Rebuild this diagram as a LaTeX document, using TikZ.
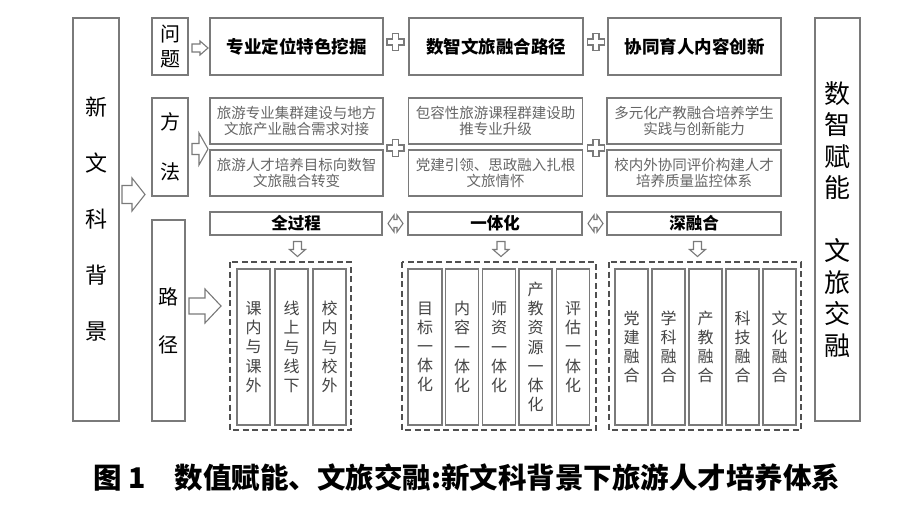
\documentclass[tikz,border=0pt]{standalone}
\usepackage{fontspec}
\setmainfont{Noto Sans CJK SC}
\newfontfamily\cjk{Noto Sans CJK SC}
\usetikzlibrary{calc}
\definecolor{bordergray}{HTML}{7A7A7A}
\definecolor{dashgray}{HTML}{505050}
\definecolor{methtext}{HTML}{666666}
\definecolor{verttext}{HTML}{444444}
\tikzset{
  box/.style={draw=bordergray, line width=1.1pt, fill=white, inner sep=0pt, align=center},
  dbox/.style={draw=dashgray, line width=1.4pt, dash pattern=on 6pt off 3.5pt},
  arrowst/.style={draw=bordergray, line width=1.1pt, fill=white, line join=miter},
  pics/harrow/.style n args={4}{code={
    \draw[arrowst] (-#1/2,-#3/2) -- (#1/2-#4,-#3/2) -- (#1/2-#4,-#2/2) -- (#1/2,0)
      -- (#1/2-#4,#2/2) -- (#1/2-#4,#3/2) -- (-#1/2,#3/2) -- cycle;}},
  pics/hplus/.style n args={2}{code={
    \draw[arrowst] (-#2/2,-#1/2) -- (#2/2,-#1/2) -- (#2/2,-#2/2) -- (#1/2,-#2/2) -- (#1/2,#2/2)
      -- (#2/2,#2/2) -- (#2/2,#1/2) -- (-#2/2,#1/2) -- (-#2/2,#2/2) -- (-#1/2,#2/2)
      -- (-#1/2,-#2/2) -- (-#2/2,-#2/2) -- cycle;}},
  pics/hdarrow/.style n args={4}{code={
    \draw[arrowst] (-#1/2,0) -- (-#1/2+#4,-#2/2) -- (-#1/2+#4,-#3/2) -- (#1/2-#4,-#3/2)
      -- (#1/2-#4,-#2/2) -- (#1/2,0) -- (#1/2-#4,#2/2) -- (#1/2-#4,#3/2)
      -- (-#1/2+#4,#3/2) -- (-#1/2+#4,#2/2) -- cycle;}},
  toptext/.style={font=\fontsize{17.5}{20}\selectfont\bfseries},
  methtxt/.style={text=methtext, font=\fontsize{14.5}{16.5}\selectfont},
  headtxt/.style={font=\fontsize{16.5}{18}\selectfont\bfseries},
  vtxt/.style={text=verttext, font=\fontsize{16}{19.2}\selectfont},
  sidetxt/.style={font=\fontsize{20}{25}\selectfont},
}
\begin{document}
\begin{tikzpicture}[x=1pt,y=-1pt]
\useasboundingbox (0,0) rectangle (900,511);
% side columns
\node[box, minimum width=46, minimum height=403, font=\fontsize{22}{56}\selectfont] (bg) at (96,219.5) {新\\文\\科\\背\\景};
\node[box, minimum width=45, minimum height=403, font=\fontsize{26}{31.5}\selectfont] (sz) at (837.5,219.5) {数\\智\\赋\\能\\[31.5pt]文\\旅\\交\\融};
% row labels
\node[box, sidetxt, minimum width=36, minimum height=57] (wt) at (170,46.5) {问\\题};
\node[box, minimum width=36, minimum height=98, font=\fontsize{20}{50}\selectfont] (ff) at (170,147) {方\\法};
\node[box, minimum width=33, minimum height=201, font=\fontsize{20}{48}\selectfont] (lj) at (168.5,320.5) {路\\径};
% problem row
\node[box, toptext, minimum width=173, minimum height=57] (p1) at (296.5,46.5) {专业定位特色挖掘};
\node[box, toptext, minimum width=174, minimum height=57] (p2) at (496,46.5) {数智文旅融合路径};
\node[box, toptext, minimum width=173, minimum height=57] (p3) at (694.5,46.5) {协同育人内容创新};
% method rows
\node[box, methtxt, minimum width=173, minimum height=46] (m1a) at (296.5,121) {旅游专业集群建设与地方\\文旅产业融合需求对接};
\node[box, methtxt, minimum width=173, minimum height=46] (m1b) at (296.5,173) {旅游人才培养目标向数智\\文旅融合转变};
\node[box, methtxt, minimum width=174, minimum height=46] (m2a) at (495.5,121) {包容性旅游课程群建设助\\推专业升级};
\node[box, methtxt, minimum width=174, minimum height=46] (m2b) at (495.5,173) {党建引领、思政融入扎根\\文旅情怀};
\node[box, methtxt, minimum width=174, minimum height=46] (m3a) at (694,121) {多元化产教融合培养学生\\实践与创新能力};
\node[box, methtxt, minimum width=174, minimum height=46] (m3b) at (694,173) {校内外协同评价构建人才\\培养质量监控体系};
% path headers
\node[box, headtxt, minimum width=172, minimum height=23] (h1) at (296,223.5) {全过程};
\node[box, headtxt, minimum width=174, minimum height=23] (h2) at (495,223.5) {一体化};
\node[box, headtxt, minimum width=174, minimum height=23] (h3) at (694,223.5) {深融合};
% dashed groups
\draw[dbox] (230,262) rectangle (351,430);
\draw[dbox] (402,262) rectangle (596,430);
\draw[dbox] (609,262) rectangle (801,430);
% inner vertical boxes
\node[box, vtxt, minimum width=33, minimum height=156] (a1) at (253.5,347) {课\\内\\与\\课\\外};
\node[box, vtxt, minimum width=33, minimum height=156] (a2) at (291.5,347) {线\\上\\与\\线\\下};
\node[box, vtxt, minimum width=33, minimum height=156] (a3) at (329.5,347) {校\\内\\与\\校\\外};
\node[box, vtxt, minimum width=34, minimum height=156] (b1) at (425,347) {目\\标\\一\\体\\化};
\node[box, vtxt, minimum width=33, minimum height=156] (b2) at (462,347) {内\\容\\一\\体\\化};
\node[box, vtxt, minimum width=33, minimum height=156] (b3) at (499,347) {师\\资\\一\\体\\化};
\node[box, vtxt, minimum width=33, minimum height=156] (b4) at (535.5,347) {产\\教\\资\\源\\一\\体\\化};
\node[box, vtxt, minimum width=33, minimum height=156] (b5) at (573,347) {评\\估\\一\\体\\化};
\node[box, vtxt, minimum width=33, minimum height=156] (c1) at (631.5,347) {党\\建\\融\\合};
\node[box, vtxt, minimum width=33, minimum height=156] (c2) at (668.5,347) {学\\科\\融\\合};
\node[box, vtxt, minimum width=33, minimum height=156] (c3) at (705.5,347) {产\\教\\融\\合};
\node[box, vtxt, minimum width=33, minimum height=156] (c4) at (742.5,347) {科\\技\\融\\合};
\node[box, vtxt, minimum width=33, minimum height=156] (c5) at (779.5,347) {文\\化\\融\\合};
% block arrows
\pic at (133.5,194.5) {harrow={23}{33}{18}{13}};
\pic at (200,48) {harrow={16}{14}{8}{8}};
\pic at (200,149) {harrow={16}{32}{11}{9}};
\pic at (205,306) {harrow={32}{34}{16}{16}};
\pic[rotate=-90] at (297.5,249) {harrow={15}{16}{8}{7}};
\pic[rotate=-90] at (501,249) {harrow={15}{16}{8}{7}};
\pic[rotate=-90] at (697.5,249) {harrow={15}{16}{8}{7}};
% plus signs
\pic at (395.5,42) {hplus={17}{6}};
\pic at (596,42) {hplus={17}{6}};
\pic at (395.5,148) {hplus={17}{6}};
\pic at (596,148) {hplus={17}{6}};
% double arrows
\pic at (395.5,223.5) {hdarrow={15}{17}{8}{6}};
\pic at (595.5,223.5) {hdarrow={15}{17}{8}{6}};
% caption
\node[font=\fontsize{28.5}{31}\selectfont\bfseries, inner sep=0pt] (cap) at (467,478) {图 1\hspace{1em}数值赋能、文旅交融:新文科背景下旅游人才培养体系};
\end{tikzpicture}
\end{document}
